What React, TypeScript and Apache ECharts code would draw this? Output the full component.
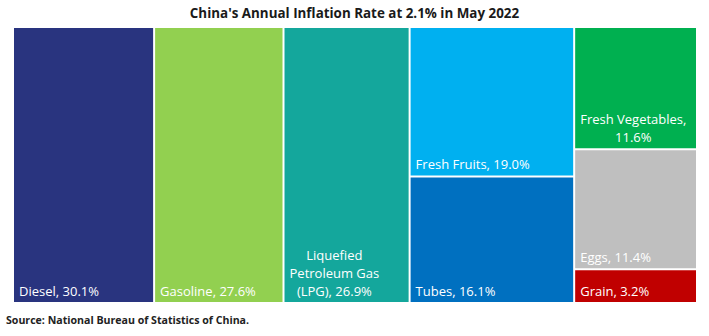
import React, { useEffect, useRef } from 'react';
import * as echarts from 'echarts';

const titleText = "China's Annual Inflation Rate at 2.1% in May 2022";
const sourceText = 'Source: National Bureau of Statistics of China.';

const names = [
  'Diesel',
  'Gasoline',
  'Liquefied\nPetroleum Gas\n(LPG)',
  'Fresh Fruits',
  'Tubes',
  'Fresh Vegetables',
  'Eggs',
  'Grain',
];
const values = [30.1, 27.6, 26.9, 19.0, 16.1, 11.6, 11.4, 3.2];
const colors = ['#29347f', '#92d050', '#14a79c', '#00b0f0', '#0070c0', '#00b050', '#bfbfbf', '#c00000'];
const valueOnNewLine = [false, false, false, false, false, true, false, false];
// indices of items stacked in each column
const columns = [[0], [1], [2], [3, 4], [5, 6, 7]];

const LABEL_FONT = '13px "Open Sans"';

function labelText(i: number) {
  return `${names[i]},${valueOnNewLine[i] ? '\n' : ' '}${values[i].toFixed(1)}%`;
}

function measureBlock(text: string) {
  const ctx = document.createElement('canvas').getContext('2d');
  if (!ctx) return 0;
  ctx.font = LABEL_FONT;
  return Math.max(...text.split('\n').map((l) => ctx.measureText(l).width));
}

function leaf(i: number) {
  const txt = labelText(i);
  const w = measureBlock(txt);
  return {
    name: names[i].replace(/\n/g, ' '),
    value: values[i],
    itemStyle: { color: colors[i], borderWidth: 1, borderColor: '#fff' },
    label: { formatter: txt, offset: [w / 2, 3] },
  };
}

export default function App() {
  const ref = useRef<HTMLDivElement>(null);
  useEffect(() => {
    document.body.style.margin = '0';
    if (!ref.current) return;
    const chart = echarts.init(ref.current, null, { renderer: 'svg' });
    const data = columns.map((col) => {
      if (col.length === 1) return leaf(col[0]);
      return {
        name: '',
        value: col.reduce((s, i) => s + values[i], 0),
        itemStyle: { borderWidth: 0, gapWidth: 0 },
        children: col.map((i) => leaf(i)),
      };
    });
    chart.setOption({
      animation: false,
      backgroundColor: '#fff',
      title: [
        {
          text: titleText,
          left: 'center',
          top: 6,
          padding: 0,
          textStyle: { fontFamily: 'Open Sans', fontWeight: 'bold', fontSize: 13.4, color: '#1a1a1a' },
        },
        {
          text: sourceText,
          left: 6,
          top: 314,
          padding: 0,
          textStyle: { fontFamily: 'Open Sans', fontWeight: 'bold', fontSize: 10.6, color: '#222' },
        },
      ],
      series: [
        {
          type: 'treemap',
          left: 13,
          top: 27,
          width: 684,
          height: 276,
          roam: false,
          nodeClick: false,
          silent: true,
          breadcrumb: { show: false },
          sort: false,
          squareRatio: 1e-6,
          visibleMin: 0,
          itemStyle: { borderWidth: 0, gapWidth: 0, borderColor: '#fff' },
          upperLabel: { show: false },
          label: {
            show: true,
            position: 'insideBottomLeft',
            distance: 5,
            padding: 0,
            align: 'center',
            color: '#fff',
            fontFamily: 'Open Sans',
            fontSize: 13,
            lineHeight: 18,
            overflow: 'none',
          },
          emphasis: { disabled: true },
          data,
        },
      ],
    });
    return () => chart.dispose();
  }, []);
  return <div ref={ref} style={{ width: 709, height: 336 }} />;
}
